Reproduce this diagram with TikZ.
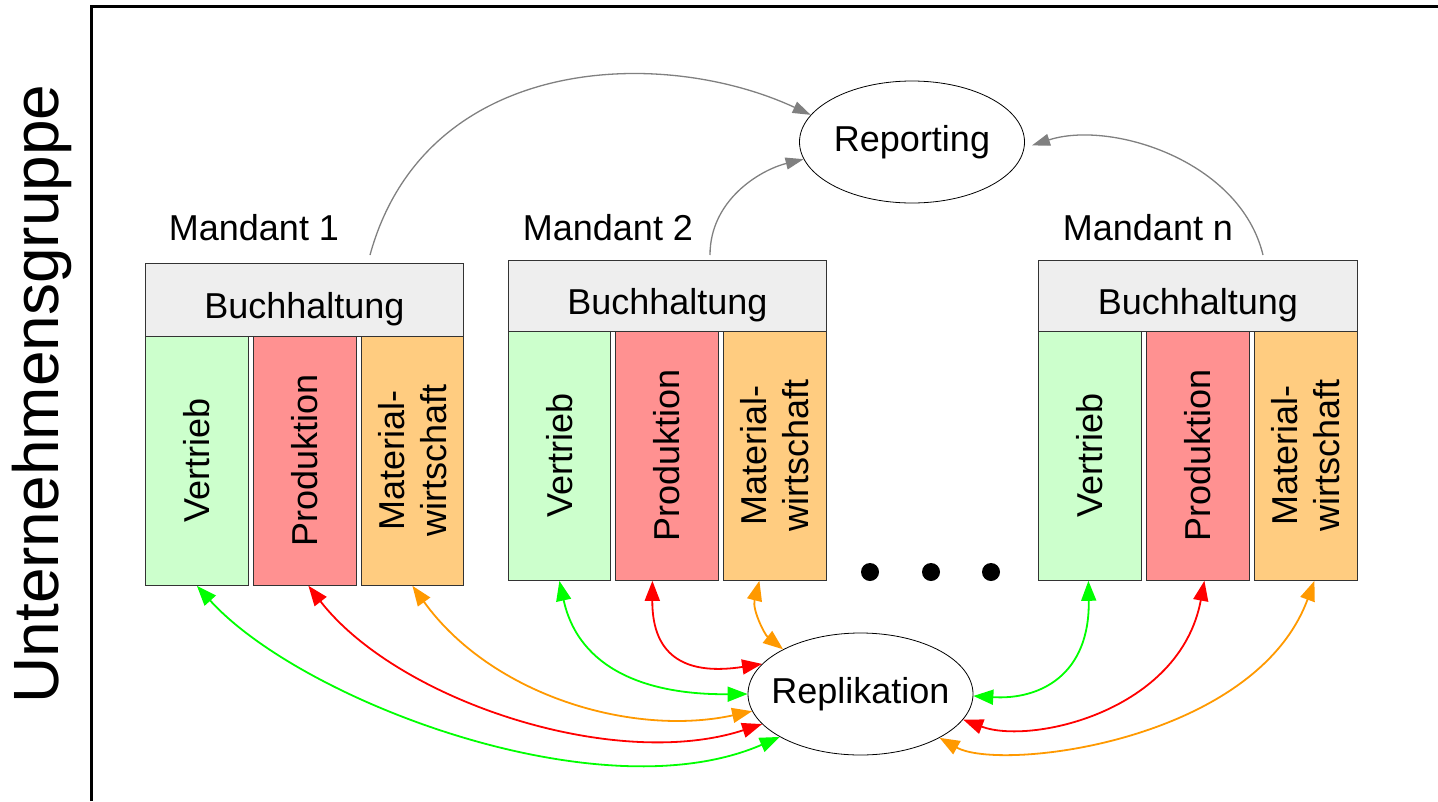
\documentclass[tikz,border=0pt]{standalone}
\usepackage{fontspec}
\setmainfont{Liberation Sans}
\usetikzlibrary{shapes.geometric,arrows.meta}
\definecolor{vcol}{HTML}{CCFFCC}
\definecolor{pcol}{HTML}{FF9191}
\definecolor{mcol}{HTML}{FFCC80}
\definecolor{bcol}{HTML}{EEEEEE}
\definecolor{agreen}{HTML}{00FF00}
\definecolor{ared}{HTML}{FF0000}
\definecolor{aorange}{HTML}{FF9900}
\definecolor{agrey}{HTML}{808080}
\begin{document}
\begin{tikzpicture}[x=1pt,y=-1pt,
  every node/.style={font=\fontsize{36}{42}\selectfont, inner sep=0pt},
  buch/.style={draw=black!80, line width=0.8pt, fill=bcol, minimum width=318pt, anchor=north west, text height=37pt, text depth=0pt},
  col/.style={draw=black!80, line width=0.8pt, minimum width=103pt, minimum height=249pt, anchor=north west},
  coltext/.style={rotate=90, align=center},
  oval/.style={draw, ellipse, line width=0.8pt, minimum width=225pt, minimum height=122pt},
  mand/.style={anchor=base},
  repa/.style={draw=agrey, line width=1.3pt, -{Triangle[length=18pt,width=12pt]}},
  sync/.style={line width=1.8pt, {Triangle[length=20pt,width=15pt]}-{Triangle[length=20pt,width=15pt]}},
  dotn/.style={circle, fill=black, minimum size=18pt}
]
\useasboundingbox (0,0) rectangle (1438,801);
\draw[line width=3pt] (91,801) -- (91,6.5) -- (1438,6.5);

\node[rotate=90, anchor=base, font=\fontsize{64}{72}\selectfont] (title) at (58,394) {Unternehmensgruppe};

% ellipses
\node[oval] (rep) at (912,142) {\makebox[0pt]{Reporting}};
\node[oval] (repl) at (860.5,694) {\makebox[0pt]{Replikation}};

% Mandant 1
\node[mand] (l1) at (254,240) {Mandant 1};
\node[col, fill=vcol] (v1) at (145,336) {};
\node[col, fill=pcol] (p1) at (253,336) {};
\node[col, fill=mcol, minimum width=102pt] (m1) at (361,336) {};
\node[buch, minimum height=73pt] (b1) at (145,263) {Buchhaltung};
\node[coltext] (v1t) at (v1.center) {Vertrieb};
\node[coltext] (p1t) at (p1.center) {Produktion};
\node[coltext] (m1t) at (m1.center) {Material-\\wirtschaft};

% Mandant 2
\node[mand] (l2) at (608,240) {Mandant 2};
\node[col, fill=vcol, minimum width=102pt] (v2) at (508,331) {};
\node[col, fill=pcol] (p2) at (615,331) {};
\node[col, fill=mcol] (m2) at (723,331) {};
\node[buch, minimum height=71.5pt] (b2) at (508,259.5) {Buchhaltung};
\node[coltext] (v2t) at (v2.center) {Vertrieb};
\node[coltext] (p2t) at (p2.center) {Produktion};
\node[coltext] (m2t) at (m2.center) {Material-\\wirtschaft};

% Mandant n
\node[mand] (ln) at (1148,240) {Mandant n};
\node[col, fill=vcol] (vn) at (1038,331) {};
\node[col, fill=pcol] (pn) at (1146,331) {};
\node[col, fill=mcol] (mn) at (1254,331) {};
\node[buch, minimum height=71.5pt, minimum width=319pt] (bn) at (1038,259.5) {Buchhaltung};
\node[coltext] (vnt) at (vn.center) {Vertrieb};
\node[coltext] (pnt) at (pn.center) {Produktion};
\node[coltext] (mnt) at (mn.center) {Material-\\wirtschaft};

% dots
\node[dotn] (d1) at (870,572) {};
\node[dotn] (d2) at (931,572) {};
\node[dotn] (d3) at (991,572) {};

% reporting arrows
\coordinate (s1) at (370,255);
\coordinate (s2) at (710,255);
\coordinate (s3) at (1263,255);
\draw[repa] (s1) .. controls (425,55) and (660,45) .. (rep.165);
\draw[repa] (s2) .. controls (710,200) and (760,170) .. (rep.189);
\draw[repa, shorten >=8pt] (s3) .. controls (1240,160) and (1110,120) .. (rep.-3);

% replication arrows
\draw[sync, agreen] (v1.south) .. controls (300,700) and (600,815) .. (repl.208);
\draw[sync, ared] ([xshift=3.5pt]p1.south) .. controls (398,701) and (615,772) .. (repl.197);
\draw[sync, aorange] (m1.south) .. controls (492,696) and (633,737) .. (repl.189.5);
\draw[sync, agreen] (v2.south) .. controls (579,670) and (648,695) .. (repl.180);
\draw[sync, ared] ([xshift=-14.5pt]p2.south) .. controls (652,660) and (690,675) .. (repl.163);
\draw[sync, aorange] ([xshift=-15.5pt]m2.south) .. controls (752,610) and (765,635) .. (repl.150);
\draw[sync, agreen] ([xshift=-1.5pt]vn.south) .. controls (1090,675) and (1040,700) .. (repl.-1);
\draw[sync, ared] ([xshift=6.5pt]pn.south) .. controls (1180,712) and (1030,745) .. (repl.-14.4);
\draw[sync, aorange] ([xshift=8.5pt]mn.south) .. controls (1255,742) and (1000,772) .. (repl.-29.6);
\end{tikzpicture}
\end{document}
